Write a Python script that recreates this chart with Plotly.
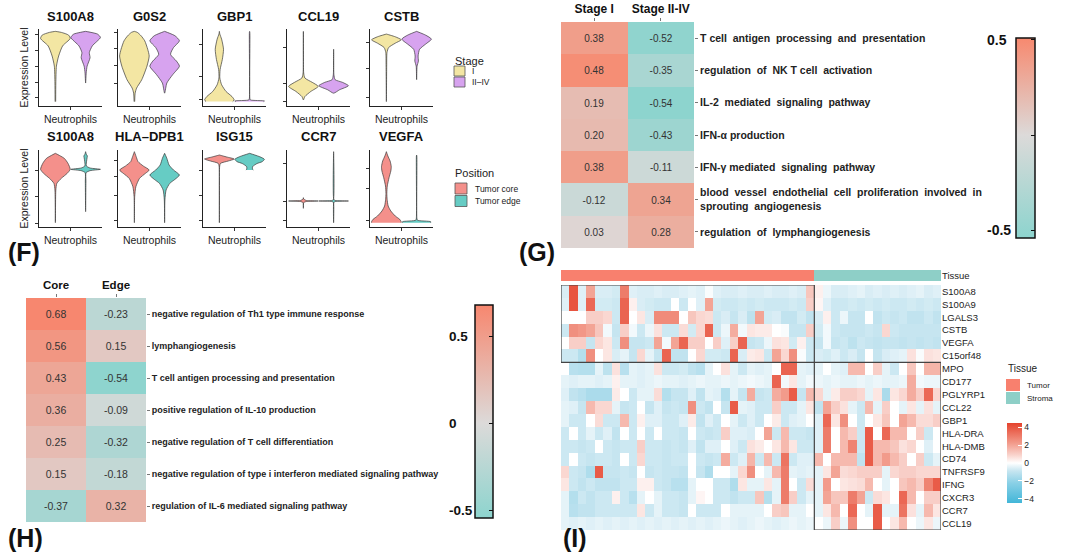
import numpy as np
import plotly.graph_objects as go

W, H = 1080, 559
FONT = "Liberation Sans, Arial, sans-serif"
NARROW = "Liberation Sans Narrow, Liberation Sans, Arial, sans-serif"

# ======================= (F) violin panels =======================
f_row1_genes = ["S100A8", "G0S2", "GBP1", "CCL19", "CSTB"]
f_row2_genes = ["S100A8", "HLA\u2013DPB1", "ISG15", "CCR7", "VEGFA"]
stage_groups = ["I", "II\u2013IV"]
position_groups = ["Tumor core", "Tumor edge"]
stage_colors = ["#F3E6A3", "#D7A3EF"]
position_colors = ["#F4908B", "#66CCC4"]
f_xlabel = "Neutrophils"

# violin outlines: (expression levels, relative density width)
vln_S100A8_stage = {
    "I": ([0, 1.1, 2.1, 2.7, 3.3, 3.74, 3.94, 4.1, 4.16],
          [0.02, 0.03, 0.07, 0.22, 0.49, 1.0, 0.89, 0.4, 0.0]),
    "II\u2013IV": ([1.1, 1.7, 2.1, 2.6, 2.9, 3.3, 3.8, 4.0, 4.16],
                   [0.0, 0.04, 0.1, 0.3, 0.25, 0.45, 1.0, 0.8, 0.0]),
}
vln_G0S2_stage = {
    "I": ([0, 0.5, 0.8, 1.3, 2.1, 2.7, 3.1, 3.6, 3.9, 4.1, 4.16],
          [0.02, 0.05, 0.15, 0.5, 0.85, 1.0, 0.9, 0.7, 0.45, 0.2, 0.0]),
    "II\u2013IV": ([0.5, 1.1, 1.6, 2.1, 2.4, 2.8, 3.2, 3.6, 3.9, 4.16],
                   [0.0, 0.15, 0.55, 1.0, 0.8, 0.4, 0.6, 1.0, 0.7, 0.0]),
}
vln_GBP1_stage = {
    "I": ([0, 0.1, 0.3, 0.6, 1.0, 1.4, 1.9, 2.5, 3.1, 3.7, 4.0, 4.16],
          [0.9, 1.0, 0.85, 0.45, 0.15, 0.03, 0.05, 0.2, 0.28, 0.15, 0.03, 0.0]),
    "II\u2013IV": ([0, 0.04, 0.1, 0.2, 4.1, 4.16],
                   [0.95, 1.0, 0.05, 0.015, 0.015, 0.0]),
}
vln_CCL19_stage = {
    "I": ([0.1, 0.3, 0.6, 0.9, 1.14, 1.4, 1.7, 4.16],
          [0.0, 0.1, 0.5, 1.0, 0.6, 0.1, 0.02, 0.0]),
    "II\u2013IV": ([0.5, 0.7, 0.94, 1.14, 1.3, 1.6, 3.1],
                   [0.0, 0.4, 1.0, 0.6, 0.1, 0.02, 0.0]),
}
vln_CSTB_stage = {
    "I": ([0, 2.1, 2.9, 3.2, 3.46, 3.66, 3.84, 4.0],
          [0.0, 0.02, 0.04, 0.15, 0.6, 1.0, 0.6, 0.0]),
    "II\u2013IV": ([1.3, 2.1, 2.4, 2.7, 3.1, 3.4, 3.7, 3.94, 4.16],
                   [0.0, 0.03, 0.12, 0.1, 0.2, 0.6, 1.0, 0.6, 0.0]),
}
vln_S100A8_position = {
    "Tumor core": ([0, 1.96, 2.36, 2.66, 2.96, 3.2, 3.56, 3.86, 4.16],
                   [0.0, 0.03, 0.1, 0.4, 0.8, 1.0, 0.85, 0.6, 0.0]),
    "Tumor edge": ([0.66, 2.5, 3.0, 3.12, 3.2, 3.28, 3.4, 3.9, 4.0, 4.1, 4.26],
                   [0.0, 0.02, 0.03, 0.3, 1.0, 0.3, 0.05, 0.1, 0.12, 0.05, 0.0]),
}
vln_HLADPB1_position = {
    "Tumor core": ([0, 1.56, 2.16, 2.66, 2.96, 3.16, 3.4, 3.66, 3.96, 4.26],
                   [0.0, 0.02, 0.1, 0.35, 0.75, 1.0, 0.6, 0.25, 0.12, 0.0]),
    "Tumor edge": ([0, 1.36, 1.96, 2.36, 2.6, 2.86, 3.16, 3.46, 3.86, 4.16],
                   [0.0, 0.02, 0.1, 0.35, 0.7, 1.0, 0.6, 0.3, 0.15, 0.0]),
}
vln_ISG15_position = {
    "Tumor core": ([0, 3.4, 3.56, 3.7, 3.82, 3.94, 4.06],
                   [0.0, 0.02, 0.08, 0.6, 1.0, 0.5, 0.0]),
    "Tumor edge": ([3.16, 3.2, 3.36, 3.55, 3.66, 3.8, 3.95, 4.16],
                   [0.25, 0.2, 0.2, 0.5, 0.85, 1.0, 0.7, 0.0]),
}
vln_CCR7_position = {
    "Tumor core": ([0.86, 1.2, 1.27, 1.3, 1.33, 1.42, 1.5],
                   [0.0, 0.02, 0.2, 1.0, 0.2, 0.02, 0.0]),
    "Tumor edge": ([0, 1.2, 1.27, 1.3, 1.33, 1.4, 4.26],
                   [0.0, 0.01, 0.1, 1.0, 0.1, 0.01, 0.0]),
}
vln_VEGFA_position = {
    "Tumor core": ([0, 0.06, 0.2, 0.4, 0.7, 1.0, 1.4, 1.76, 2.2, 2.7, 3.1, 3.36, 3.7, 4.0, 4.26],
                   [1.0, 1.0, 0.9, 0.6, 0.3, 0.12, 0.05, 0.03, 0.06, 0.18, 0.3, 0.33, 0.25, 0.1, 0.0]),
    "Tumor edge": ([0, 0.06, 0.15, 0.3, 4.0, 4.06],
                   [0.95, 0.95, 0.05, 0.015, 0.015, 0.0]),
}
f_row1_ticks = [[0.24, 1.16, 2.1, 3.0, 4.0], [1.1, 2.12, 3.14, 4.1], [0.1, 1.5, 3.4],
                [0.0, 1.1, 3.2], [0.24, 1.94, 3.5]]
f_row2_ticks = [[-0.04, 1.56, 3.16], [0.16, 1.66, 2.76, 3.76], [0.16, 1.66, 3.16],
                [0.16, 1.3, 3.56], [0.12, 2.06, 3.26]]

# ======================= (G) stage heatmap =======================
g_columns = ["Stage I", "Stage II-IV"]
g_pathways = ["T cell  antigen  processing  and  presentation",
              "regulation  of  NK T cell  activation",
              "IL-2  mediated  signaling  pathway",
              "IFN-\u03b1 production",
              "IFN-\u03b3 mediated  signaling  pathway",
              "blood  vessel  endothelial  cell  proliferation  involved  in<br>sprouting  angiogenesis",
              "regulation  of  lymphangiogenesis"]
g_stage_I = [0.38, 0.48, 0.19, 0.20, 0.38, -0.12, 0.03]
g_stage_II_IV = [-0.52, -0.35, -0.54, -0.43, -0.11, 0.34, 0.28]
g_ticks = [0.5, 0, -0.5]

# ======================= (H) position heatmap =======================
h_columns = ["Core", "Edge"]
h_pathways = ["negative regulation of Th1 type immune response",
              "lymphangiogenesis",
              "T cell antigen processing and presentation",
              "positive regulation of IL-10 production",
              "negative regulation of T cell differentiation",
              "negative regulation of type i interferon mediated signaling pathway",
              "regulation of IL-6 mediated signaling pathway"]
h_core = [0.68, 0.56, 0.43, 0.36, 0.25, 0.15, -0.37]
h_edge = [-0.23, 0.15, -0.54, -0.09, -0.32, -0.18, 0.32]
h_ticks = [0.5, 0, -0.5]

# ======================= (I) expression heatmap =======================
i_genes = ["S100A8", "S100A9", "LGALS3", "CSTB", "VEGFA", "C15orf48", "MPO", "CD177",
           "PGLYRP1", "CCL22", "GBP1", "HLA-DRA", "HLA-DMB", "CD74", "TNFRSF9", "IFNG",
           "CXCR3", "CCR7", "CCL19"]
i_tissues = ["Tumor", "Stroma"]
i_tissue_colors = ["#F8806E", "#8ECFC7"]
i_n_tumor_high_genes = 6
i_tumor = [
    [-0.6, 4.0, -0.5, 2.0, -0.6, -0.6, -0.7, 3.0, -0.5, -0.6, -0.6, -0.5, -0.6, -0.6, -0.5, -0.4, -0.5, -0.1, -0.5, -0.6, -0.6, -0.5, -0.6, -0.6, -0.5, -0.6, -0.6, -0.5, -0.6, 1.2],
    [-0.5, 4.0, -0.5, 3.5, -0.7, -0.7, -0.8, 3.6, 0.3, -0.6, -0.7, -0.8, -0.8, 0.0, -0.8, 0.0, -0.5, 2.0, -0.7, -0.8, -0.8, -0.7, -0.8, -0.7, -0.8, -0.8, -0.8, -0.7, -0.8, 1.0],
    [0.0, 0.0, 0.0, 1.0, 1.0, 0.8, -0.8, 3.6, 0.0, 0.5, -0.6, 2.6, 2.6, 2.6, 0.0, 1.2, 0.8, 0.7, -0.8, -0.6, -0.9, -0.6, -1.1, 2.0, -0.7, -0.6, -1.0, -1.0, -0.7, -1.0],
    [-0.8, 2.5, 2.3, 2.0, 1.2, -0.2, -0.9, 1.0, -0.2, -0.8, -0.3, 0.6, -0.8, -0.8, 0.7, -0.7, 0.8, 3.6, -0.8, -0.3, 1.8, -0.2, 0.5, 0.4, 0.4, 0.0, -0.1, -0.9, -0.9, 1.0],
    [0.0, 1.0, 1.0, -0.9, 0.8, 0.5, -0.8, 2.5, -0.9, -0.9, -0.8, 2.0, -0.2, 2.0, 3.6, 1.0, 1.0, 0.0, 1.0, -0.5, 1.0, 3.6, -0.9, -0.8, -0.3, 0.6, 0.5, -0.7, 0.3, -0.8],
    [-0.8, -0.8, -1.3, 2.5, 0.0, 0.5, -0.6, -0.4, -0.9, 0.8, -0.4, -0.9, 3.6, -1.0, -1.0, 0.0, 0.8, -0.7, -0.7, -0.8, 3.6, -0.6, 0.4, 0.5, -0.8, 2.0, 0.8, 2.5, -0.1, -0.8],
    [0.0, -1.2, -1.3, -1.3, -0.4, -1.1, 0.6, -1.2, -0.4, -0.5, -0.4, 0.6, -0.8, -0.8, -0.7, -1.0, -1.2, -0.4, 0.0, 0.6, -0.4, -0.8, -0.4, -0.5, -0.4, 0.0, 3.6, 3.6, -0.4, -0.5],
    [-0.4, -0.5, -0.4, -0.4, -0.5, -0.4, 0.3, -0.4, -0.4, -0.5, -0.4, -0.3, -0.4, -0.4, -0.5, -0.4, -0.3, -0.4, -0.4, -0.3, -0.4, -0.3, -0.2, -0.3, -0.4, 3.6, -0.2, 0.5, -0.4, -0.2],
    [-0.5, -1.0, -1.2, -1.5, -1.5, -1.5, 0.4, 0.0, -0.8, -0.4, -0.4, 0.7, -1.3, -0.9, -0.9, -0.5, -1.0, -0.4, -0.5, -1.3, -0.4, -0.9, 1.8, -0.9, -0.8, 1.8, 2.2, 3.8, -0.9, 1.5],
    [-0.4, -0.5, -0.9, 1.5, 0.8, 0.8, -0.4, -0.9, -0.8, 0.0, -0.9, -0.5, -0.9, -0.8, -0.9, 2.5, -0.8, -1.0, 0.0, -0.9, 3.8, -0.4, -0.5, -0.8, -0.8, 1.0, -0.8, -0.8, -0.4, 0.5],
    [-0.4, -0.8, -0.8, 0.0, 0.7, -0.8, -0.8, 1.5, -0.8, 0.3, -0.5, -0.5, -0.8, -0.8, -0.5, 0.4, -1.0, -0.5, -0.8, 0.0, -0.4, -0.8, -0.5, -0.8, 0.0, 0.4, -0.8, -0.5, -0.4, 0.0],
    [-0.8, 0.0, -0.8, -0.4, -0.8, -0.5, -1.0, 0.0, -0.8, 0.0, -0.8, 0.0, -0.8, -0.8, -0.9, 0.0, -0.8, -0.9, -0.8, 1.0, -0.5, -0.5, -0.6, 0.0, 2.0, -0.8, 1.5, -0.8, -0.8, -0.9],
    [-0.8, -0.8, -0.9, -0.8, 0.0, -0.8, -0.9, -0.8, -0.8, 1.0, -0.8, -0.8, -0.9, -0.8, -0.9, -0.5, -1.0, -0.5, -0.5, 0.0, -0.5, -0.8, 0.6, 0.4, 0.0, 0.5, 1.5, 0.5, -0.8, -0.8],
    [-0.8, 0.0, -0.8, -0.9, -0.8, -0.8, -0.9, 0.0, -0.8, 0.8, -0.8, -0.8, -0.9, -0.8, -0.8, 0.0, -0.8, -0.9, -0.8, 1.8, -0.8, -0.5, 1.6, -0.8, 1.5, -0.8, 3.2, -0.8, -0.5, -0.5],
    [0.8, -0.8, -0.9, -1.4, 3.8, -0.9, -0.9, -0.8, -0.9, 0.0, -0.9, -0.8, -0.9, -0.9, -1.0, 0.0, -0.9, -1.4, 0.0, 0.0, -0.4, 0.8, 2.5, 0.0, -0.4, 1.5, 3.0, -0.4, -0.5, -0.4],
    [0.5, -0.8, -1.0, -0.8, -1.0, -1.0, -1.0, -0.8, -0.8, 0.3, 0.3, -0.8, -0.9, -1.2, -1.2, -0.4, 0.0, 0.0, -0.8, -0.8, -1.4, 0.5, -0.4, -0.4, 0.5, -0.4, 3.0, 0.0, -0.8, 0.7],
    [-0.4, -1.3, -0.8, -1.0, -0.8, -0.8, 0.3, -0.8, -1.2, -0.4, 0.0, -0.4, -0.8, -0.8, -0.9, -0.4, 0.2, 0.0, -0.8, -0.8, -1.0, -0.8, -0.8, 1.2, -1.3, -0.4, 3.0, 1.0, -0.8, -0.4],
    [-0.4, -1.2, -1.0, -1.0, -0.8, -0.8, -0.8, -0.8, -0.8, 0.5, -0.8, -0.4, -0.8, -0.8, -0.9, 0.0, -0.8, -0.8, -0.8, 0.0, -0.4, -0.4, -0.4, -0.4, 0.0, 1.0, 1.2, -0.4, -0.4, 0.0],
    [-0.4, -0.5, -0.4, -0.5, -0.4, -0.5, -0.4, -0.5, -0.4, -0.5, -0.4, -0.5, -0.4, -0.5, -0.4, -0.5, -0.4, -0.5, -0.4, -0.3, -0.4, -0.5, -0.4, -0.3, -0.4, -0.5, -0.4, -0.3, -0.4, -0.3],
]
i_stroma = [
    [0.3, -0.3, -0.6, -0.6, -0.5, -0.4, -0.6, -0.5, -0.6, -0.5, -0.6, -0.5, -0.4, -0.6, -0.5],
    [0.2, -0.5, -0.8, -0.8, -0.7, -0.8, -0.7, -0.8, -0.7, -0.8, -0.8, -0.7, -0.8, -0.7, -0.8],
    [-0.6, 0.3, -0.8, -0.3, -0.9, -0.9, 0.0, -1.0, -0.8, -0.9, -0.8, -1.0, -1.0, -0.8, -1.0],
    [-0.7, -0.2, -0.8, -0.9, -0.9, -0.9, -0.8, -0.9, 0.8, -0.8, -0.9, -0.9, -0.9, -0.9, -0.9],
    [-0.9, -0.2, -0.9, -0.8, -1.1, -0.8, -0.9, -1.0, -0.9, -0.9, -1.0, -0.9, -1.0, -0.9, -1.0],
    [-0.6, -0.7, -0.5, -0.8, -0.6, -0.9, 0.0, -0.9, -0.6, -0.5, -0.4, 0.6, -0.1, 0.6, 0.5],
    [-0.4, 0.0, -0.4, -0.5, 1.5, 1.5, 0.0, 1.0, -0.4, -0.8, 0.0, 1.2, 0.0, 1.6, 1.6],
    [-0.3, -0.4, -0.3, -0.4, -0.4, -0.3, -0.4, -0.3, -0.4, -0.4, -0.3, 1.8, -0.2, -0.3, -0.3],
    [0.8, -0.4, 0.4, 1.0, 1.0, 0.8, -0.4, 0.5, -1.5, 0.5, 0.8, 1.8, 1.0, 3.5, 0.8],
    [-1.0, 2.0, 1.0, 0.6, -0.4, -0.8, 1.5, -0.4, 1.0, 0.0, -0.4, 0.5, -0.4, 0.6, -0.4],
    [-0.5, 3.5, 0.5, 2.5, 0.0, -0.8, 0.0, 0.5, 1.2, 0.0, 2.0, 1.5, 0.7, 0.7, 1.0],
    [-0.5, 3.0, 0.0, 1.5, 1.0, -0.8, 3.8, 0.0, 3.5, 1.5, 1.5, 0.0, 1.0, -0.8, 0.0],
    [-0.5, 3.0, 0.0, 1.5, 2.8, -0.8, 3.8, 1.5, 1.5, 1.2, 0.6, 0.8, 0.0, -0.5, 0.0],
    [1.5, 0.0, 1.5, 1.5, 1.5, -1.0, 3.8, 1.5, 2.2, 1.5, 1.0, 0.0, 1.0, -0.8, -0.4],
    [-0.4, 0.5, 2.0, 0.7, 0.8, 1.0, 1.0, 1.0, -0.4, 0.8, 1.0, 1.0, 0.8, 0.8, 0.8],
    [-0.4, 2.2, 0.0, 0.5, 0.6, 0.7, 1.5, 0.0, -0.4, 0.0, 1.2, 1.5, 1.0, 2.8, 3.8],
    [-0.4, 2.0, 1.2, 1.2, 3.0, 2.0, -0.8, 0.7, 0.5, 0.0, 3.5, 1.5, 0.0, 1.0, 1.0],
    [-0.4, 0.5, 1.5, 0.0, 3.5, 0.0, -0.4, 3.8, -0.4, -0.4, 3.2, 0.6, -0.4, 1.5, 0.5],
    [0.0, -0.3, 1.0, -0.3, 2.5, 0.0, 0.0, 3.8, 0.0, 0.5, 1.5, 0.0, -0.3, 0.5, -0.3],
]
i_ticks = [4, 2, 0, -2, -4]

# ======================= figure construction =======================
fig = go.Figure()
axes_layout = {}
annotations = []
shapes = []


def refs(i):
    return ("xaxis" if i == 1 else f"xaxis{i}", "yaxis" if i == 1 else f"yaxis{i}",
            "x" if i == 1 else f"x{i}", "y" if i == 1 else f"y{i}")


def set_axes(i, xpx, ypx, xa, ya):
    xk, yk, xr, yr = refs(i)
    xa = dict(xa)
    ya = dict(ya)
    xa.update(domain=[xpx[0] / W, xpx[1] / W], anchor=yr)
    ya.update(domain=[1 - ypx[1] / H, 1 - ypx[0] / H], anchor=xr)
    axes_layout[xk] = xa
    axes_layout[yk] = ya


def text(x, y, s, size, xanchor="center", bold=False, color="#111", family=FONT):
    annotations.append(dict(x=x / W, y=1 - y / H, xref="paper", yref="paper", text=s,
                            showarrow=False, xanchor=xanchor, yanchor="middle",
                            font=dict(size=size, color=color, family=family,
                                      weight="bold" if bold else "normal")))


def rect(x0, y0, x1, y1, color, line="#555", lw=0.8):
    shapes.append(dict(type="rect", xref="paper", yref="paper", x0=x0 / W, x1=x1 / W,
                       y0=1 - y1 / H, y1=1 - y0 / H, fillcolor=color,
                       line=dict(color=line, width=lw)))


F_LEFT = [39, 118, 203, 287, 370]
F_WIDTH = 63
F_ROWS = [(29, 106, 17, [-0.26, 4.3]), (150, 227, 137, [-0.26, 4.36])]
CENTERS = [-0.24, 0.24]
HALF = 0.235

f_panels = [
    (0, f_row1_genes, [vln_S100A8_stage, vln_G0S2_stage, vln_GBP1_stage, vln_CCL19_stage, vln_CSTB_stage],
     stage_groups, stage_colors, f_row1_ticks),
    (1, f_row2_genes, [vln_S100A8_position, vln_HLADPB1_position, vln_ISG15_position, vln_CCR7_position,
                       vln_VEGFA_position], position_groups, position_colors, f_row2_ticks),
]

ax = 1
for r, genes, profiles, groups, colors, ticks in f_panels:
    top, bot, title_y, yrange = F_ROWS[r]
    for c in range(5):
        _, _, xr, yr = refs(ax)
        for g, grp in enumerate(groups):
            ys, ws = profiles[c][grp]
            ys = np.asarray(ys, float)
            ws = np.asarray(ws, float) * HALF
            cx = CENTERS[g]
            xs = np.concatenate([cx + ws, (cx - ws)[::-1]])
            yy = np.concatenate([ys, ys[::-1]])
            fig.add_trace(go.Scatter(x=xs, y=yy, mode="lines", fill="toself", fillcolor=colors[g],
                                     line=dict(color="#3a3a3a", width=0.7, shape="spline", smoothing=0.6),
                                     hoverinfo="skip", showlegend=False, xaxis=xr, yaxis=yr))
        ya = dict(range=yrange, tickvals=ticks[c], showticklabels=False, ticks="outside", ticklen=3,
                  tickcolor="#333", showline=True, linecolor="#222", linewidth=1, showgrid=False,
                  zeroline=False)
        if c == 0:
            ya["title"] = dict(text="Expression Level", font=dict(size=10.5, family=FONT, color="#222"),
                               standoff=4)
        set_axes(ax, (F_LEFT[c], F_LEFT[c] + F_WIDTH), (top, bot),
                 dict(range=[-0.5, 0.5], tickvals=[0], ticktext=[f_xlabel], ticks="outside", ticklen=3,
                      tickcolor="#333", tickfont=dict(size=10.5, family=FONT, color="#222"),
                      showline=True, linecolor="#222", linewidth=1, showgrid=False, zeroline=False),
                 ya)
        text(F_LEFT[c] + F_WIDTH / 2, title_y, genes[c], 13, bold=True)
        ax += 1

# F legends
text(453, 61, "Stage", 11, xanchor="left", color="#222")
for k, (lab, col) in enumerate(zip(stage_groups, stage_colors)):
    rect(454, 66 + 11 * k, 465, 76 + 11 * k, col)
    text(470, 71 + 11 * k, lab, 8.5, xanchor="left", color="#222")
text(453, 173, "Position", 11, xanchor="left", color="#222")
for k, (lab, col) in enumerate(zip(position_groups, position_colors)):
    rect(455, 183 + 12.5 * k, 467, 194 + 12.5 * k, col)
    text(473, 189 + 12.5 * k, lab, 8.5, xanchor="left", color="#222")

# ---------------- (G) heatmap ----------------
G_ZMIN, G_ZMAX = -0.54, 0.51
g_scale = [[0, "#8DD4CE"], [(0 - G_ZMIN) / (G_ZMAX - G_ZMIN), "#DCDAD9"], [1, "#F7896F"]]
G_CB = dict(x=1016, yc=138, len=200, th=19)
fig.add_trace(go.Heatmap(
    z=[[a, b] for a, b in zip(g_stage_I, g_stage_II_IV)], x=[0, 1], y=list(range(len(g_pathways))),
    colorscale=g_scale, zmin=G_ZMIN, zmax=G_ZMAX, texttemplate="%{z:.2f}",
    textfont=dict(size=10, color="#333", family=FONT), hoverinfo="skip",
    colorbar=dict(x=G_CB["x"] / W, xanchor="left", y=1 - G_CB["yc"] / H, yanchor="middle",
                  len=G_CB["len"], lenmode="pixels", thickness=G_CB["th"], thicknessmode="pixels",
                  xpad=0, ypad=0, outlinecolor="#111", outlinewidth=1.5, ticks="inside",
                  tickvals=g_ticks, ticklen=4, tickcolor="#111", showticklabels=False),
    xaxis="x11", yaxis="y11"))
set_axes(11, (561, 694), (22, 248),
         dict(side="top", range=[-0.5, 1.5], tickvals=[0, 1], ticktext=g_columns, ticks="outside", ticklen=3,
              tickcolor="#777", tickfont=dict(size=12, family=FONT, color="#111", weight="bold"),
              showgrid=False, zeroline=False, showline=False),
         dict(side="right", range=[len(g_pathways) - 0.5, -0.5], tickvals=list(range(len(g_pathways))),
              ticktext=g_pathways, ticks="outside", ticklen=3, tickcolor="#777",
              tickfont=dict(size=10.5, family=NARROW, color="#222", weight="bold"),
              showgrid=False, zeroline=False, showline=False))
for v in g_ticks:
    if v != 0:
        ypx = G_CB["yc"] + G_CB["len"] / 2 - (v - G_ZMIN) / (G_ZMAX - G_ZMIN) * G_CB["len"]
        text(985, ypx, f"{v:g}", 14, xanchor="left", bold=True)

# ---------------- (H) heatmap ----------------
H_ZMIN, H_ZMAX = -0.545, 0.68
h_scale = [[0, "#8DD4CE"], [(0 - H_ZMIN) / (H_ZMAX - H_ZMIN), "#DCDAD9"], [1, "#F7876F"]]
H_CB = dict(x=475, yc=411.5, len=213, th=18)
fig.add_trace(go.Heatmap(
    z=[[a, b] for a, b in zip(h_core, h_edge)], x=[0, 1], y=list(range(len(h_pathways))),
    colorscale=h_scale, zmin=H_ZMIN, zmax=H_ZMAX, texttemplate="%{z:.2f}",
    textfont=dict(size=10.5, color="#333", family=FONT), hoverinfo="skip",
    colorbar=dict(x=H_CB["x"] / W, xanchor="left", y=1 - H_CB["yc"] / H, yanchor="middle",
                  len=H_CB["len"], lenmode="pixels", thickness=H_CB["th"], thicknessmode="pixels",
                  xpad=0, ypad=0, outlinecolor="#111", outlinewidth=1.5, ticks="inside",
                  tickvals=h_ticks, ticklen=4, tickcolor="#111", showticklabels=False),
    xaxis="x12", yaxis="y12"))
set_axes(12, (26, 146), (298, 522),
         dict(side="top", range=[-0.5, 1.5], tickvals=[0, 1], ticktext=h_columns, ticks="outside", ticklen=3,
              tickcolor="#777", tickfont=dict(size=11.5, family=FONT, color="#111", weight="bold"),
              showgrid=False, zeroline=False, showline=False),
         dict(side="right", range=[len(h_pathways) - 0.5, -0.5], tickvals=list(range(len(h_pathways))),
              ticktext=h_pathways, ticks="outside", ticklen=3, tickcolor="#777",
              tickfont=dict(size=9, family=NARROW, color="#222", weight="bold"),
              showgrid=False, zeroline=False, showline=False))
for v in h_ticks:
    ypx = H_CB["yc"] + H_CB["len"] / 2 - (v - H_ZMIN) / (H_ZMAX - H_ZMIN) * H_CB["len"]
    text(447, ypx, f"{v:g}", 13.5, xanchor="left", bold=True)

# ---------------- (I) heatmap ----------------
n_tumor = len(i_tumor[0])
n_stroma = len(i_stroma[0])
n_col = n_tumor + n_stroma
i_z = [t + s for t, s in zip(i_tumor, i_stroma)]
I_ZMIN, I_ZMAX = -4.45, 4.45
i_scale = [[0, "#42B6D8"], [0.25, "#8AD0E6"], [0.4, "#C6E5F0"], [0.5, "#FFFFFF"], [0.6, "#F9D3CC"],
           [0.75, "#F29A8A"], [1, "#E5432D"]]
I_CB = dict(x=1007, yc=463, len=80, th=15)
fig.add_trace(go.Heatmap(
    z=i_z, x=list(range(n_col)), y=list(range(len(i_genes))), colorscale=i_scale,
    zmin=I_ZMIN, zmax=I_ZMAX, hoverinfo="skip",
    colorbar=dict(x=I_CB["x"] / W, xanchor="left", y=1 - I_CB["yc"] / H, yanchor="middle",
                  len=I_CB["len"], lenmode="pixels", thickness=I_CB["th"], thicknessmode="pixels",
                  xpad=0, ypad=0, outlinewidth=0, ticks="inside", tickvals=i_ticks,
                  ticktext=[f"{v}".replace("-", "\u2212") for v in i_ticks], ticklen=4,
                  tickcolor="white", tickfont=dict(size=8.5, family=FONT, color="#222")),
    xaxis="x13", yaxis="y13"))
set_axes(13, (561, 941), (285, 530),
         dict(range=[-0.5, n_col - 0.5], showticklabels=False, ticks="", showgrid=False, zeroline=False),
         dict(side="right", range=[len(i_genes) - 0.5, -0.5], tickvals=list(range(len(i_genes))),
              ticktext=i_genes, ticks="", tickfont=dict(size=9.5, family=FONT, color="#222"),
              showgrid=False, zeroline=False))
# tissue annotation bar
fig.add_trace(go.Heatmap(
    z=[[0] * n_tumor + [1] * n_stroma], x=list(range(n_col)), y=[0],
    colorscale=[[0, i_tissue_colors[0]], [0.5, i_tissue_colors[0]], [0.5, i_tissue_colors[1]],
                [1, i_tissue_colors[1]]], zmin=0, zmax=1, showscale=False, hoverinfo="skip",
    xaxis="x14", yaxis="y14"))
set_axes(14, (561, 941), (270, 281),
         dict(range=[-0.5, n_col - 0.5], showticklabels=False, ticks="", showgrid=False, zeroline=False),
         dict(side="right", range=[-0.5, 0.5], tickvals=[0], ticktext=["Tissue"], ticks="",
              tickfont=dict(size=9.5, family=FONT, color="#222"), showgrid=False, zeroline=False))
# cluster boxes
shapes.append(dict(type="rect", xref="x13", yref="y13", x0=-0.5, x1=n_tumor - 0.5, y0=-0.5,
                   y1=i_n_tumor_high_genes - 0.5, line=dict(color="#444", width=1.2)))
shapes.append(dict(type="rect", xref="x13", yref="y13", x0=n_tumor - 0.5, x1=n_col - 0.5,
                   y0=i_n_tumor_high_genes - 0.5, y1=len(i_genes) - 0.5, line=dict(color="#444", width=1.2)))
# tissue legend
text(1006, 368, "Tissue", 10, xanchor="left", color="#222")
for k, (lab, col) in enumerate(zip(i_tissues, i_tissue_colors)):
    rect(1006, 379 + 13 * k, 1020, 391 + 13 * k, col, line=col, lw=0)
    text(1025, 385 + 13 * k, lab, 8, xanchor="left", color="#222")

# panel letters
text(6, 252, "(F)", 25, xanchor="left", bold=True)
text(517, 252, "(G)", 25, xanchor="left", bold=True)
text(6, 538, "(H)", 25, xanchor="left", bold=True)
text(561, 538, "(I)", 25, xanchor="left", bold=True)

fig.update_layout(width=W, height=H, margin=dict(l=0, r=0, t=0, b=0), paper_bgcolor="white",
                  plot_bgcolor="white", showlegend=False, font=dict(family=FONT, color="#222"),
                  annotations=annotations, shapes=shapes, **axes_layout)
fig.write_html("out.html", config={"displayModeBar": False, "staticPlot": True},
               post_script="document.body.style.margin='0';")
